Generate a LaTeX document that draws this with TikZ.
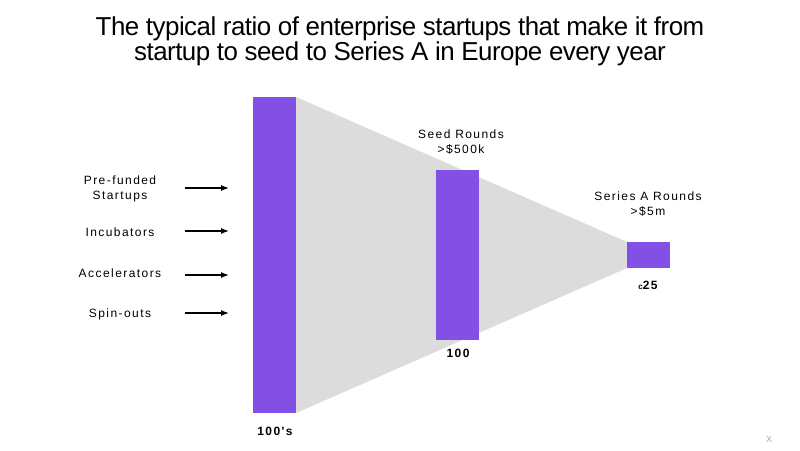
\documentclass[tikz,border=0pt]{standalone}
\usepackage{fontspec}
\setmainfont{Liberation Sans}
\newfontfamily\spaced[LetterSpace=12]{Liberation Sans}
\newfontfamily\titlefont[LetterSpace=-2]{Liberation Sans}
\usetikzlibrary{arrows.meta}
\definecolor{barpurple}{HTML}{8350E6}
\definecolor{funnelgray}{HTML}{DCDCDC}
\begin{document}
\begin{tikzpicture}[x=1pt,y=-1pt,
  bar/.style={fill=barpurple,draw=none},
  lbl/.style={font=\spaced\fontsize{12}{15}\selectfont,align=center,inner sep=0pt},
  num/.style={font=\spaced\bfseries\fontsize{12}{14}\selectfont,inner sep=0pt},
  feed/.style={-{Latex[length=8pt,width=6pt]},line width=1.4pt}]
\useasboundingbox[fill=white] (0,0) rectangle (800,450);
% title
\node[font=\titlefont\fontsize{25.9}{25}\selectfont,align=center,inner sep=0pt] (title) at (400,41)
  {The typical ratio of enterprise startups that make it from\\startup to seed to Series A in Europe every year};
% funnel
\fill[funnelgray] (296,97) -- (627,242) -- (627,268) -- (296,413) -- cycle;
% bars
\fill[bar] (253,97) rectangle (296,413);
\fill[bar] (436,170) rectangle (479,340);
\fill[bar] (627,242) rectangle (670,268);
\coordinate (b1a) at (229,188);
\coordinate (b1b) at (229,231);
\coordinate (b1c) at (229,275);
\coordinate (b1d) at (229,313);
% left labels
\node[lbl] (pf) at (120,189) {Pre-funded\\Startups};
\node[lbl] (inc) at (120,232) {Incubators};
\node[lbl] (acc) at (120,273) {Accelerators};
\node[lbl] (spin) at (120,314) {Spin-outs};
\coordinate (a1) at (185,188);
\coordinate (a2) at (185,231);
\coordinate (a3) at (185,275);
\coordinate (a4) at (185,313);
\draw[feed] (a1) -- (b1a);
\draw[feed] (a2) -- (b1b);
\draw[feed] (a3) -- (b1c);
\draw[feed] (a4) -- (b1d);
% stage labels
\node[lbl] (seed) at (461,142) {Seed Rounds\\>\$500k};
\node[lbl] (sera) at (648,204) {Series A Rounds\\>\$5m};
% numbers
\node[num] (n1) at (275,431) {100's};
\node[num] (n2) at (458,353) {100};
\node[num] (n3) at (648,285) {{\fontsize{8}{10}\selectfont c}25};
\node[font=\fontsize{9}{10}\selectfont,text=gray!70,inner sep=0pt] (x) at (769,439) {X};
\end{tikzpicture}
\end{document}
